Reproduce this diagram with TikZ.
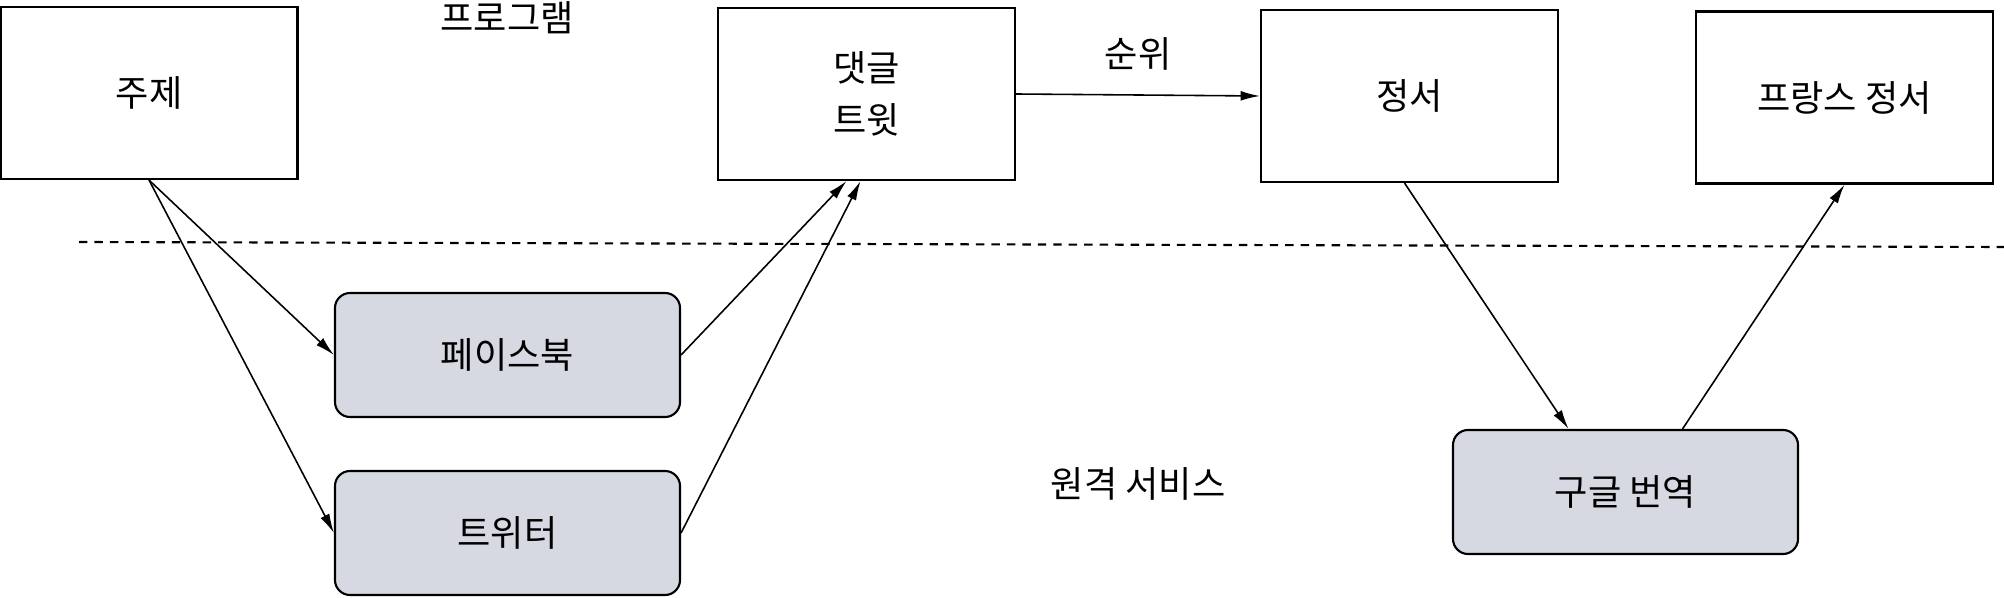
\documentclass[tikz,border=0pt]{standalone}
\usepackage{fontspec}
\setmainfont{Noto Sans CJK KR}
\usetikzlibrary{arrows.meta}

\definecolor{svcfill}{RGB}{214,217,225}

\begin{document}
\begin{tikzpicture}[
  font=\fontsize{10.3}{14.8}\selectfont,
  progbox/.style={draw, line width=0.6pt, minimum width=2.97cm, minimum height=1.72cm, align=center},
  svcbox/.style={draw, line width=0.6pt, fill=svcfill, rounded corners=0.15cm, minimum width=3.45cm, minimum height=1.24cm},
  arr/.style={-{Latex[length=5.5pt,width=2.8pt]}, line width=0.45pt}
]
\useasboundingbox (0,0) rectangle (20.04,-5.98);

% Program side
\node[progbox] (topic) at (1.49,-0.93) {주제};
\node[progbox] (comment) at (8.665,-0.94) {댓글\\트윗};
\node[progbox] (sentiment) at (14.095,-0.96) {정서};
\node[progbox] (french) at (18.445,-0.975) {프랑스 정서};

\node (program) at (5.07,-0.18) {프로그램};

% Boundary
\draw[dashed, dash pattern=on 2.4pt off 2pt, line width=0.6pt] (0.79,-2.42) -- (20.04,-2.47);

% Remote services
\node[svcbox] (facebook) at (5.075,-3.55) {페이스북};
\node[svcbox] (twitter) at (5.075,-5.33) {트위터};
\node[svcbox] (google) at (16.255,-4.92) {구글 번역};

\node (remote) at (11.38,-4.84) {원격 서비스};

% Arrows
\draw[arr] (topic.south) -- (facebook.west);
\draw[arr] (topic.south) -- (twitter.west);
\draw[arr] (facebook.east) -- ([xshift=-0.2cm]comment.south);
\draw[arr] (twitter.east) -- ([xshift=-0.06cm]comment.south);
\draw[arr] (comment.east) -- node[midway, above=0.12cm] {순위} (sentiment.west);
\draw[arr] ([xshift=-0.05cm]sentiment.south) -- ([xshift=-0.57cm]google.north);
\draw[arr] ([xshift=0.57cm]google.north) -- (french.south);

\end{tikzpicture}
\end{document}
